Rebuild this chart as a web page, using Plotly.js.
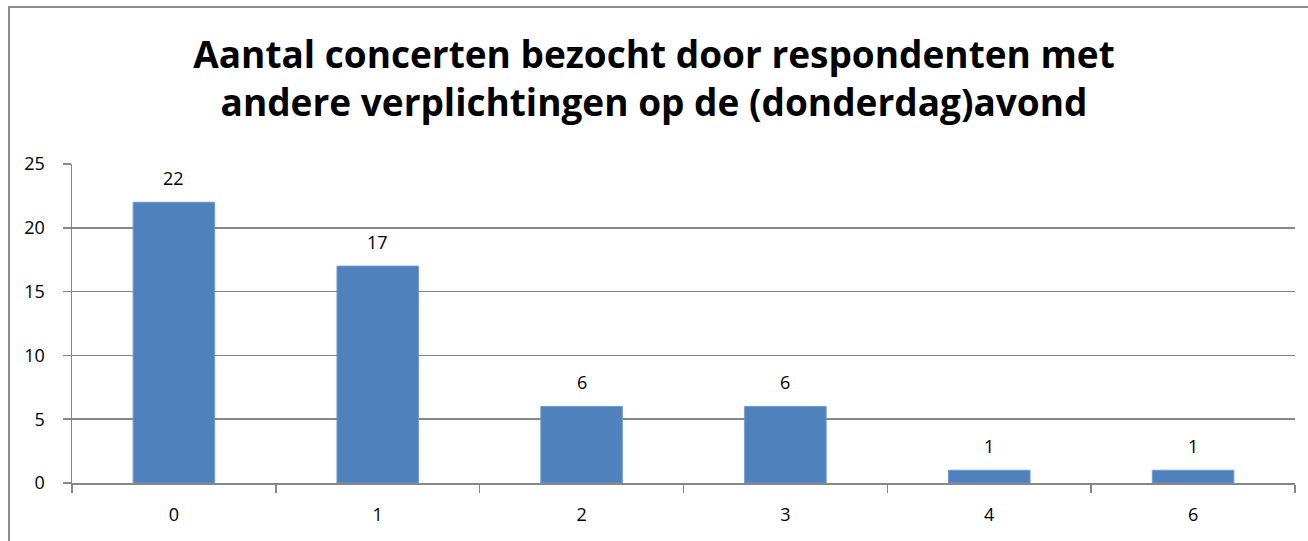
<!DOCTYPE html>
<html>
<head>
<meta charset="utf-8">
<script src="https://cdn.plot.ly/plotly-3.0.1.min.js"></script>
<style>
  html, body { margin: 0; padding: 0; background: #fff; overflow: hidden; }
  #wrap { position: relative; width: 1308px; height: 541px; }
  #chart { width: 1308px; height: 541px; }
  #frame { position: absolute; left: 8px; top: 6px; width: 1320px; height: 560px; z-index: 10;
           border-left: 2px solid #8c8c8c; border-top: 2px solid #8c8c8c; pointer-events: none; box-sizing: border-box; }
</style>
</head>
<body>
<div id="wrap">
  <div id="chart"></div>
  <div id="frame"></div>
</div>
<script>
const categories = ["0", "1", "2", "3", "4", "6"];
const counts = [22, 17, 6, 6, 1, 1];
const yTicks = [0, 5, 10, 15, 20, 25];
const chartTitle = "Aantal concerten bezocht door respondenten met<br>andere verplichtingen op de (donderdag)avond";

const fontFam = "'Open Sans', 'Liberation Sans', sans-serif";

const trace = {
  type: "bar",
  x: categories,
  y: counts,
  marker: { color: "#4F81BD", line: { color: "#6f9bd1", width: 1 } },
  width: 0.4,
  hoverinfo: "x+y"
};

// Data labels placed via the category index of each bar
const labels = categories.map((c, i) => ({
  x: i, y: counts[i], xref: "x", yref: "y",
  text: String(counts[i]), showarrow: false,
  yanchor: "bottom", yshift: 10,
  font: { family: fontFam, size: 18, color: "#000" }
}));

const layout = {
  width: 1308,
  height: 541,
  margin: { l: 72, r: 13, t: 164, b: 58 },
  paper_bgcolor: "#fff",
  plot_bgcolor: "#fff",
  showlegend: false,
  annotations: labels,
  title: {
    text: chartTitle,
    font: { family: fontFam, size: 37, color: "#000", weight: "bold" },
    x: 0.5, xanchor: "center",
    y: 0.875, yanchor: "top"
  },
  xaxis: {
    type: "category",
    categoryorder: "array",
    categoryarray: categories,
    range: [-0.5, categories.length - 0.5],
    showgrid: false,
    showline: true,
    linecolor: "#868686",
    linewidth: 1.5,
    ticks: "outside",
    ticklen: 8,
    tickcolor: "#868686",
    tickwidth: 1.5,
    tickson: "boundaries",
    ticklabelstandoff: 15,
    tickfont: { family: fontFam, size: 18, color: "#000" },
    zeroline: false,
    fixedrange: true
  },
  yaxis: {
    range: [0, 25],
    tickvals: yTicks,
    ticktext: yTicks.map(String),
    showgrid: true,
    gridcolor: "#868686",
    gridwidth: 1.5,
    showline: true,
    linecolor: "#868686",
    linewidth: 1.5,
    ticks: "outside",
    ticklen: 8,
    tickcolor: "#868686",
    tickwidth: 1.5,
    ticklabelstandoff: 14,
    tickfont: { family: fontFam, size: 18, color: "#000" },
    zeroline: false,
    fixedrange: true
  }
};

Plotly.newPlot("chart", [trace], layout, { displayModeBar: false, staticPlot: true });
</script>
</body>
</html>
